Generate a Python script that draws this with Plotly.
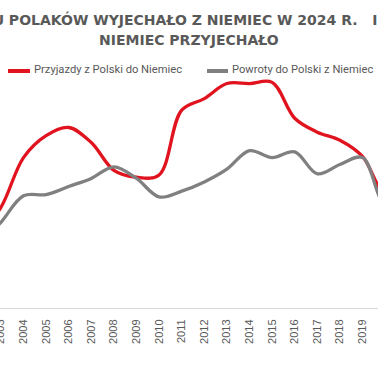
import plotly.graph_objects as go

# Data (thousands of persons)
years = list(range(2002, 2022))
arrivals = [63, 87, 130, 149, 156, 143, 119, 113, 115, 171, 181, 194, 194, 195, 164, 152, 145, 131, 99, 102]
returns = [54, 74, 97, 98, 105, 112, 122, 112, 96, 101, 109, 120, 136, 130, 135, 116, 124, 130, 90, 98]
tick_years = list(range(2003, 2021))
series_names = ["Przyjazdy z Polski do Niemiec", "Powroty do Polski z Niemiec"]
title_line1 = "ILU POLAKÓW WYJECHAŁO Z NIEMIEC W 2024 R.&nbsp;&nbsp; I ILU DO"
title_line2 = "NIEMIEC PRZYJECHAŁO"

RED = "#E0131E"
GRAY = "#808080"
TXT = "#595959"

W, H = 378, 370
T, B = 60, 62
PH = H - T - B

fig = go.Figure()
fig.add_trace(go.Scatter(x=years, y=arrivals, mode="lines", name=series_names[0],
                         line=dict(color=RED, width=3.3, shape="spline", smoothing=1.0)))
fig.add_trace(go.Scatter(x=years, y=returns, mode="lines", name=series_names[1],
                         line=dict(color=GRAY, width=3.3, shape="spline", smoothing=1.0)))

def py(px):
    return (H - B - px) / PH

# custom legend
leg = [(8, 30, 32, RED, series_names[0]), (207, 228, 230, GRAY, series_names[1])]
for x0, x1, xt, col, name in leg:
    fig.add_shape(type="line", xref="paper", yref="paper", x0=x0 / W, x1=x1 / W,
                  y0=py(71), y1=py(71), line=dict(color=col, width=4))
    fig.add_annotation(xref="paper", yref="paper", x=xt / W, y=py(70), text=name,
                       showarrow=False, xanchor="left", yanchor="middle",
                       font=dict(family="Roboto", size=11.2, color=TXT))

# title
fig.add_annotation(xref="paper", yref="paper", x=-23 / W, y=py(20), text="<b>" + title_line1 + "</b>",
                   showarrow=False, xanchor="left", yanchor="middle",
                   font=dict(family="DejaVu Sans", size=14, color=TXT))
fig.add_annotation(xref="paper", yref="paper", x=189 / W, y=py(40), text="<b>" + title_line2 + "</b>",
                   showarrow=False, xanchor="center", yanchor="middle",
                   font=dict(family="DejaVu Sans", size=14, color=TXT))

x_per_year = 22.6
x2004 = 23.5
fig.update_layout(
    width=W, height=H,
    margin=dict(l=0, r=0, t=T, b=B, autoexpand=False),
    paper_bgcolor="white", plot_bgcolor="white",
    showlegend=False,
    xaxis=dict(range=[2004 - x2004 / x_per_year, 2004 + (W - x2004) / x_per_year],
               tickmode="array", tickvals=tick_years, ticktext=[str(y) for y in tick_years],
               tickangle=-90, showgrid=False, zeroline=False, automargin=False,
               showline=True, linecolor="#D9D9D9", linewidth=1,
               ticks="", ticklabelstandoff=6, ticklabeloverflow="allow",
               tickfont=dict(family="Liberation Sans, Arial", size=11, color=TXT)),
    yaxis=dict(range=[0, PH / 1.157], visible=False, showgrid=False, zeroline=False,
               automargin=False),
)
fig.write_html("out.html", config={"displayModeBar": False},
               post_script="document.body.style.margin='0';document.body.style.overflow='hidden';")
